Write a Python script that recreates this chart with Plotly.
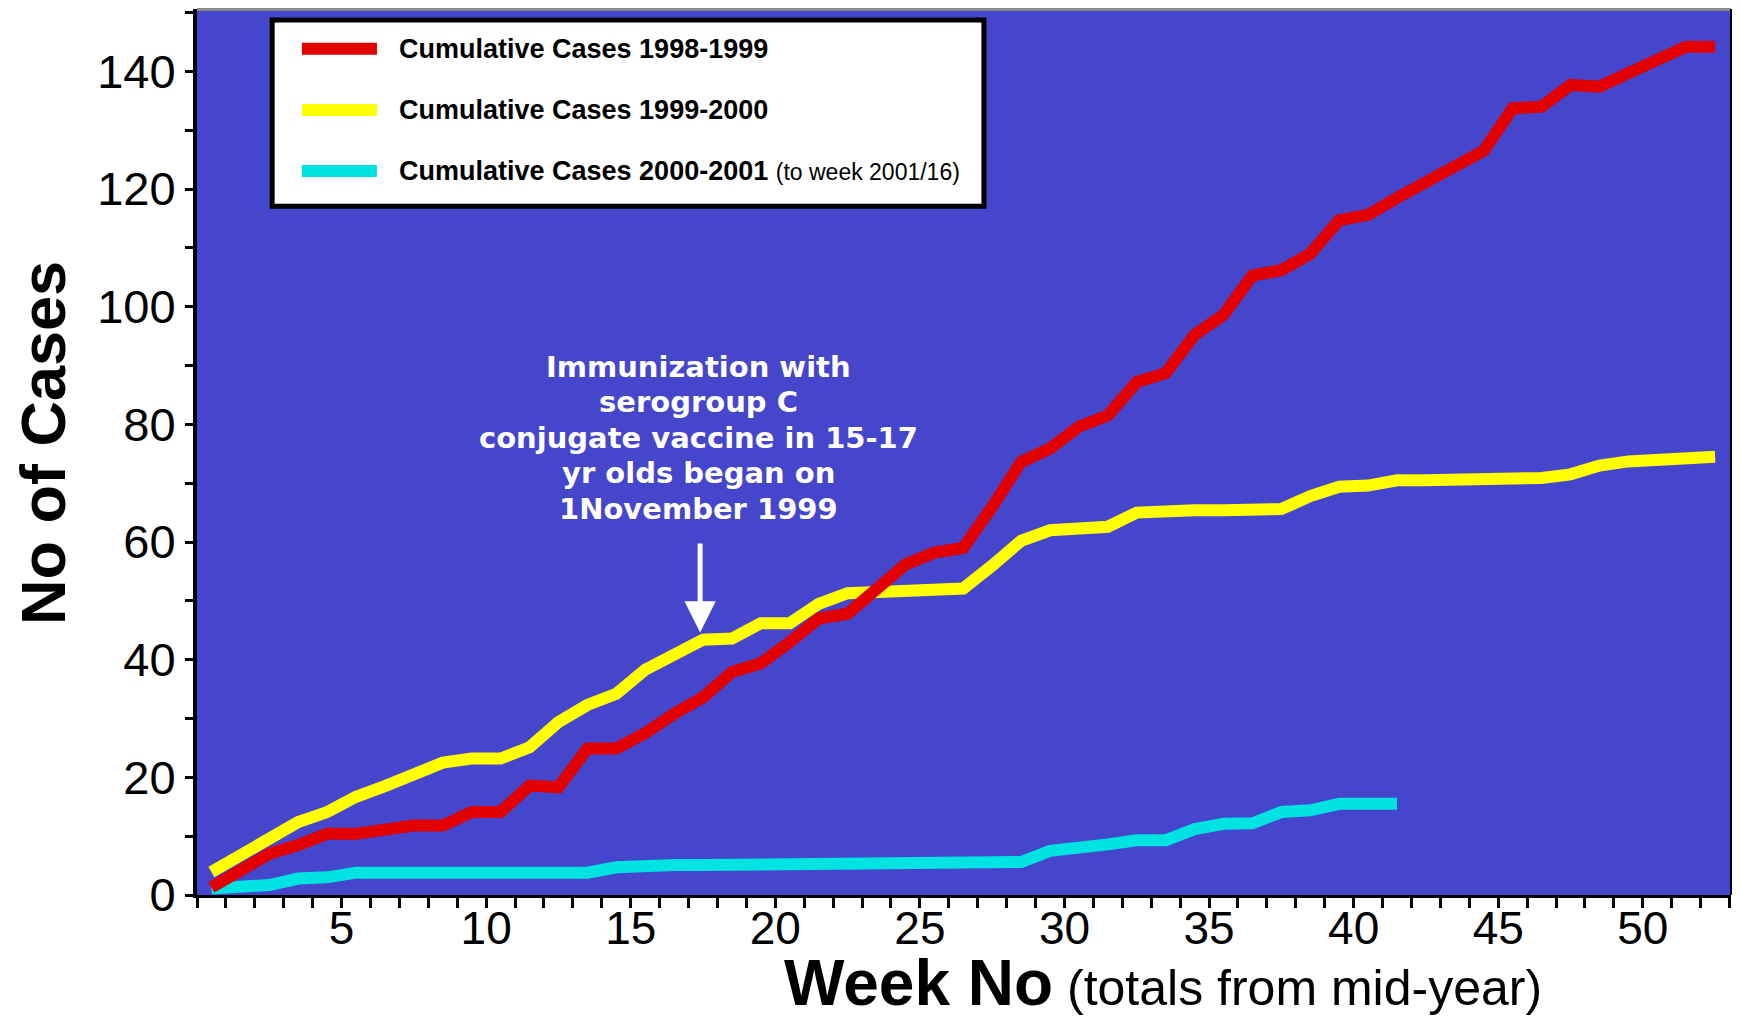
import plotly.graph_objects as go

# ---------------- data ----------------
weeks_9899 = list(range(1, 54))
cases_9899 = [1.3, 4, 7, 8.5, 10.4, 10.4, 11.3, 11.8, 11.8, 14.1,
              14.1, 18.6, 18.3, 24.9, 24.9, 27.5, 30.8, 33.6, 37.9, 39.4,
              43, 47, 47.8, 52.3, 56.2, 58.2, 59, 66, 73.6, 75.9,
              79.6, 81.5, 87.2, 88.7, 95.2, 98.6, 105.3, 106.2, 109, 114.7,
              115.6, 118.5, 121.3, 124, 126.5, 133.7, 134, 137.7, 137.4, 139.7,
              142, 144.2, 144.2]

weeks_9900 = list(range(1, 54))
cases_9900 = [3.9, 6.9, 9.8, 12.4, 14.1, 16.7, 18.5, 20.4, 22.5, 23.2,
              23.2, 25.1, 29.4, 32.3, 34.2, 38.3, 40.8, 43.4, 43.6, 46.2,
              46.2, 49.5, 51.3, 51.5, 51.5, 52.1, 52.1, 56, 60.2, 62,
              62.2, 62.6, 65, 65.4, 65.4, 65.4, 65.4, 65.6, 67.8, 69.4,
              69.6, 70.5, 70.5, 70.5, 70.5, 70.5, 70.9, 71.5, 73.0, 73.7,
              73.9, 74.6, 74.5]

weeks_0001 = list(range(1, 43))
cases_0001 = [1.1, 1.4, 1.7, 2.8, 3.0, 3.8, 3.8, 3.8, 3.8, 3.8,
              3.8, 3.8, 3.8, 3.8, 4.7, 5.1, 5.1, 5.1, 5.1, 5.1,
              5.1, 5.2, 5.2, 5.2, 5.2, 5.3, 5.3, 5.3, 5.6, 7.5,
              7.9, 8.6, 9.3, 9.3, 11.2, 12.1, 12.2, 14.1, 14.4, 15.5,
              15.5, 15.5]

series_names = ["Cumulative Cases 1998-1999",
                "Cumulative Cases 1999-2000",
                "Cumulative Cases 2000-2001"]
legend_note = "(to week 2001/16)"

x_tick_vals = [5, 10, 15, 20, 25, 30, 35, 40, 45, 50]
y_tick_vals = [0, 20, 40, 60, 80, 100, 120, 140]

annotation_lines = ["Immunization with", "serogroup C", "conjugate vaccine in 15-17",
                    "yr olds began on", "1November 1999"]
annotation_week = 17.4
annotation_top_value = 89.8
annotation_line_step = 6.05
arrow_tip_value = 44.6
arrow_tail_value = 60.0

# ---------------- styles ----------------
BG = "#4646CC"
RED = "#E20000"
YELLOW = "#FFFF00"
CYAN = "#00E3E3"
LW = 12
FONT = "Liberation Sans, Arial, Helvetica, sans-serif"


def week_centre(ws):
    # each weekly total is plotted at the centre of its week
    return [w - 0.5 for w in ws]


fig = go.Figure()
fig.add_trace(go.Scatter(x=week_centre(weeks_0001), y=cases_0001, mode="lines",
                         name=series_names[2], line=dict(color=CYAN, width=LW)))
fig.add_trace(go.Scatter(x=week_centre(weeks_9900), y=cases_9900, mode="lines",
                         name=series_names[1], line=dict(color=YELLOW, width=LW)))
fig.add_trace(go.Scatter(x=week_centre(weeks_9899), y=cases_9899, mode="lines",
                         name=series_names[0], line=dict(color=RED, width=LW)))

# the page body adds an 8px margin, so the figure is 8px smaller than the window
fig.update_layout(
    width=1732, height=1027,
    margin=dict(l=189, r=9, t=1, b=140, autoexpand=False),
    paper_bgcolor="white", plot_bgcolor=BG,
    showlegend=False,
    font=dict(family=FONT, color="black"),
)

fig.update_xaxes(
    range=[0, 53.05], tickmode="array", tickvals=x_tick_vals,
    ticks="outside", ticklen=10, tickwidth=3, tickcolor="black",
    showline=True, linecolor="black", linewidth=3,
    showgrid=False, zeroline=False, ticklabelstandoff=-19,
    tickfont=dict(size=46, family=FONT, color="black"),
    minor=dict(tickmode="linear", tick0=0, dtick=1, ticks="outside",
               ticklen=10, tickwidth=3, tickcolor="black", showgrid=False),
)
fig.update_yaxes(
    range=[0, 150.6], tickmode="array", tickvals=y_tick_vals,
    ticks="outside", ticklen=8, tickwidth=3, tickcolor="black",
    showline=True, linecolor="black", linewidth=4,
    showgrid=False, zeroline=False,
    tickfont=dict(size=47, family=FONT, color="black"),
    minor=dict(tickmode="linear", tick0=0, dtick=10, ticks="outside",
               ticklen=8, tickwidth=3, tickcolor="black", showgrid=False),
)

# frame: grey top edge, thin black right edge
fig.add_shape(type="line", xref="paper", yref="paper", x0=0, x1=1, y0=1, y1=1,
              line=dict(color="#8C8C8C", width=4))
fig.add_shape(type="line", xref="paper", yref="paper", x0=1, x1=1, y0=0, y1=1,
              line=dict(color="black", width=2))

# legend box (drawn by hand to get long keys like the original)
fig.add_shape(type="rect", xref="paper", yref="paper",
              x0=0.049, x1=0.513, y0=0.7775, y1=0.9876,
              fillcolor="white", line=dict(color="black", width=5))
legend_rows = [0.9550, 0.8860, 0.8172]
legend_colors = [RED, YELLOW, CYAN]
for i, (yy, col) in enumerate(zip(legend_rows, legend_colors)):
    fig.add_shape(type="line", xref="paper", yref="paper",
                  x0=0.0684, x1=0.1173, y0=yy, y1=yy,
                  line=dict(color=col, width=LW))
    txt = "<b>" + series_names[i] + "</b>"
    if i == 2:
        txt += " <span style='font-size:23px'>" + legend_note + "</span>"
    fig.add_annotation(xref="paper", yref="paper", x=0.1304, y=yy,
                       xanchor="left", yanchor="middle", showarrow=False,
                       text=txt, font=dict(size=27, family=FONT, color="black"))

# immunization note (one annotation per line for the tight line spacing) and arrow
for j, line in enumerate(annotation_lines):
    fig.add_annotation(x=annotation_week - 0.05,
                       y=annotation_top_value - j * annotation_line_step,
                       xref="x", yref="y", text="<b>" + line + "</b>", showarrow=False,
                       xanchor="center", yanchor="middle",
                       font=dict(size=29, family="DejaVu Sans, sans-serif", color="white"))
fig.add_annotation(x=annotation_week, y=arrow_tip_value, ax=annotation_week, ay=arrow_tail_value,
                   xref="x", yref="y", axref="x", ayref="y", text="",
                   showarrow=True, arrowhead=2, arrowsize=1.25, arrowwidth=5,
                   arrowcolor="white")

# axis titles
fig.add_annotation(xref="paper", yref="paper", x=-0.1005, y=0.51,
                   text="<b>No of Cases</b>", textangle=-90, showarrow=False,
                   xanchor="center", yanchor="middle",
                   font=dict(size=63, family=FONT, color="black"))
fig.add_annotation(xref="paper", yref="paper", x=0.630, y=-0.099,
                   text="<b>Week No</b><span style='font-size:50px'> (totals from mid-year)</span>",
                   showarrow=False, xanchor="center", yanchor="middle",
                   font=dict(size=64, family=FONT, color="black"))

fig.write_html("out.html")
